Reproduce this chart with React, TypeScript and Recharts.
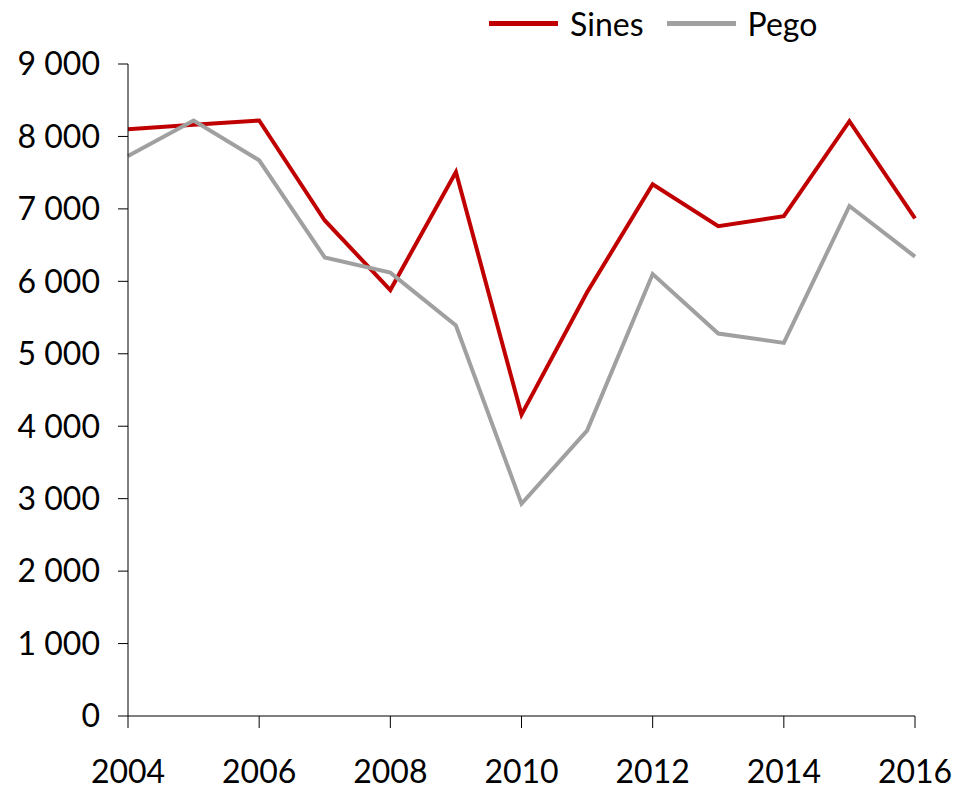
import { LineChart, Line, XAxis, YAxis } from 'recharts';

const years = [2004, 2005, 2006, 2007, 2008, 2009, 2010, 2011, 2012, 2013, 2014, 2015, 2016];
const sines = [8100, 8160, 8220, 6840, 5880, 7510, 4160, 5850, 7340, 6760, 6900, 8210, 6870];
const pego = [7730, 8220, 7670, 6330, 6120, 5390, 2930, 3940, 6100, 5280, 5150, 7040, 6340];
const yTicks = [0, 1000, 2000, 3000, 4000, 5000, 6000, 7000, 8000, 9000];
const xTicks = [2004, 2006, 2008, 2010, 2012, 2014, 2016];

const series = [
  { key: 'sines', name: 'Sines', color: '#C00000' },
  { key: 'pego', name: 'Pego', color: '#A0A0A0' },
];

const data = years.map((year, i) => ({ year, sines: sines[i], pego: pego[i] }));

const FONT = 'Lato, "Open Sans", sans-serif';

function formatThousands(n: number): string {
  return String(n).replace(/\B(?=(\d{3})+(?!\d))/g, ' ');
}

const tickStyle = { fontSize: 32, fill: '#000', fontFamily: FONT };

export default function App() {
  return (
    <div style={{ position: 'absolute', left: 0, top: 0, width: 956, height: 791, background: '#fff' }}>
      {/* legend sits above the plot, drawn as plain html */}
      <div style={{
        position: 'absolute', top: 0, left: 489, height: 46,
        display: 'flex', alignItems: 'center', fontFamily: FONT, fontSize: 32,
      }}>
        {series.map((s, i) => (
          <div key={s.key} style={{ display: 'flex', alignItems: 'center', marginRight: i === 0 ? 23 : 0 }}>
            <span style={{ display: 'inline-block', width: 69, height: 5, background: s.color, marginRight: 12 }} />
            <span>{s.name}</span>
          </div>
        ))}
      </div>
      <LineChart
        width={956}
        height={791}
        data={data}
        margin={{ top: 64, right: 41, left: 10, bottom: 15 }}
      >
        <XAxis
          dataKey="year"
          type="number"
          domain={[2004, 2016]}
          ticks={xTicks}
          tick={tickStyle}
          tickSize={12}
          tickMargin={32}
          height={60}
          stroke="#000"
          interval={0}
        />
        <YAxis
          domain={[0, 9000]}
          ticks={yTicks}
          tick={tickStyle}
          tickFormatter={formatThousands}
          tickSize={10}
          tickMargin={18}
          width={118}
          stroke="#000"
          interval={0}
        />
        {series.map((s) => (
          <Line
            key={s.key}
            type="linear"
            dataKey={s.key}
            name={s.name}
            stroke={s.color}
            strokeWidth={4}
            dot={false}
            isAnimationActive={false}
          />
        ))}
      </LineChart>
    </div>
  );
}
